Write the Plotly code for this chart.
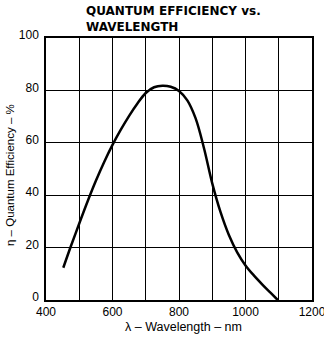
import plotly.graph_objects as go

wavelength_nm = [452, 475, 500, 525, 550, 575, 600, 625, 650, 675, 700, 725, 750, 775, 800,
                 825, 850, 875, 900, 925, 950, 975, 1000, 1025, 1050, 1075, 1097]
efficiency_pct = [12.3, 20.6, 29.2, 37.6, 45.5, 52.7, 59.2, 65, 70.3, 75, 79, 81.2, 81.8, 81.4, 79.8,
                  76.2, 69.3, 58, 44.5, 33.5, 24.8, 18.2, 13.2, 9.4, 6, 2.8, 0]

x_ticks = [400, 600, 800, 1000, 1200]
y_ticks = [0, 20, 40, 60, 80, 100]

FONT = "Liberation Sans, Arial, sans-serif"
L, R, T, B = 46, 12, 38, 43
W, H = 324, 343
PW, PH = W - L - R, H - T - B


def py(ypix):
    """pixel row -> paper y"""
    return (T + PH - ypix) / PH


def px(xpix):
    return (xpix - L) / PW


fig = go.Figure()
fig.add_trace(go.Scatter(
    x=wavelength_nm, y=efficiency_pct, mode="lines",
    line=dict(color="black", width=2.5, shape="spline", smoothing=1.0),
    showlegend=False, hoverinfo="skip",
))

fig.update_layout(
    width=W, height=H,
    margin=dict(l=L, r=R, t=T, b=B, autoexpand=False),
    paper_bgcolor="white", plot_bgcolor="white",
    font=dict(family=FONT, color="black", size=12),
    xaxis=dict(
        range=[400, 1200], tickvals=x_ticks, ticktext=[str(v) for v in x_ticks],
        showgrid=True, gridcolor="black", gridwidth=1,
        showline=True, linecolor="black", linewidth=1.5, mirror=True,
        ticks="", zeroline=False, automargin=False,
        tickfont=dict(size=12), ticklabelstandoff=0,
        ticklabeloverflow="allow",
        minor=dict(dtick=100, tick0=400, showgrid=True, gridcolor="black", gridwidth=1),
    ),
    yaxis=dict(
        range=[0, 100], tickvals=y_ticks, ticktext=[str(v) for v in y_ticks],
        showgrid=True, gridcolor="black", gridwidth=1,
        showline=True, linecolor="black", linewidth=1.5, mirror=True,
        ticks="", zeroline=False, automargin=False,
        tickfont=dict(size=12), ticklabelstandoff=3, ticklabelshift=-3,
        ticklabeloverflow="allow",
    ),
)

title_font = dict(family="DejaVu Sans, sans-serif", size=12, color="black")
fig.add_annotation(text="<b>QUANTUM EFFICIENCY vs.</b><br><b>WAVELENGTH</b>",
                   xref="paper", yref="paper", x=px(84), y=py(2),
                   xanchor="left", yanchor="top", align="left", showarrow=False,
                   font=title_font)

# x axis title
fig.add_annotation(text="λ – Wavelength – nm",
                   xref="paper", yref="paper", x=px(183), y=py(327),
                   xanchor="center", yanchor="middle", showarrow=False,
                   font=dict(family=FONT, size=12.5, color="black"))

# y axis title
fig.add_annotation(text="η – Quantum Efficiency – %", textangle=-90,
                   xref="paper", yref="paper", x=px(10), y=py(175),
                   xanchor="center", yanchor="middle", showarrow=False,
                   font=dict(family=FONT, size=11.5, color="black"))

fig.write_html("out.html")
